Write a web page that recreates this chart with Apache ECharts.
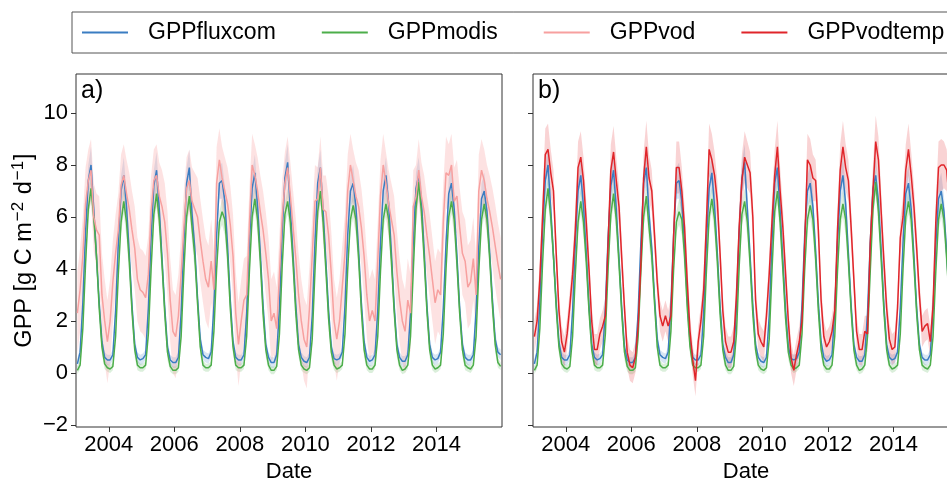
<!DOCTYPE html>
<html>
<head>
<meta charset="utf-8">
<script src="https://cdn.jsdelivr.net/npm/echarts@6/dist/echarts.min.js"></script>
<style>
  html, body { margin: 0; padding: 0; background: #fff; overflow: hidden; }
  /* the figure is wider than the window: the right panel is cut off at the edge */
  #chart { width: 975px; height: 480px; }
</style>
</head>
<body>
<div id="chart"></div>
<script>
// monthly means, Jan 2003 .. Dec 2015 (one row per year)
const startYear = 2003;

const fluxcom = [
  0.35, 0.8, 2.7, 5.4, 7.4, 8.0, 6.3, 4.5, 2.7, 1.2, 0.6, 0.5,
  0.5, 0.7, 2.4, 5.0, 7.0, 7.6, 6.4, 4.6, 2.6, 1.1, 0.6, 0.5,
  0.55, 0.7, 2.5, 5.2, 7.2, 7.8, 6.3, 4.4, 2.5, 1.0, 0.5, 0.4,
  0.4, 0.6, 2.3, 5.0, 7.3, 7.9, 6.1, 4.8, 2.9, 1.3, 0.7, 0.6,
  0.55, 0.8, 2.6, 5.3, 7.3, 7.4, 6.6, 4.9, 2.8, 1.2, 0.6, 0.5,
  0.5, 0.7, 2.3, 5.0, 7.1, 7.7, 6.4, 4.6, 2.6, 1.1, 0.6, 0.4,
  0.4, 0.7, 2.5, 5.4, 7.5, 8.1, 6.3, 4.5, 2.6, 1.1, 0.6, 0.45,
  0.4, 0.6, 2.2, 5.0, 7.3, 7.9, 6.2, 4.3, 2.4, 1.0, 0.55, 0.5,
  0.55, 0.8, 2.6, 5.3, 7.0, 7.3, 6.4, 4.7, 2.7, 1.2, 0.6, 0.45,
  0.5, 0.7, 2.4, 5.0, 7.0, 7.6, 6.5, 4.6, 2.6, 1.1, 0.6, 0.45,
  0.45, 0.7, 2.3, 5.0, 7.1, 7.6, 6.6, 4.7, 2.6, 1.1, 0.6, 0.5,
  0.55, 0.8, 2.5, 5.0, 6.9, 7.3, 6.3, 4.5, 2.5, 1.1, 0.6, 0.5,
  0.5, 0.7, 2.4, 4.9, 6.7, 7.0, 6.2, 4.6, 2.8, 1.3, 0.8, 0.7
];

const modis = [
  0.1, 0.3, 1.7, 4.2, 6.3, 7.1, 6.0, 4.5, 2.5, 1.0, 0.35, 0.2,
  0.15, 0.25, 1.4, 3.8, 5.8, 6.6, 5.8, 4.3, 2.4, 0.9, 0.3, 0.2,
  0.2, 0.3, 1.5, 4.0, 6.1, 6.9, 5.9, 4.2, 2.3, 0.8, 0.25, 0.1,
  0.1, 0.2, 1.4, 3.9, 6.0, 6.8, 5.6, 4.5, 2.7, 1.0, 0.3, 0.2,
  0.2, 0.3, 1.6, 4.0, 5.8, 6.2, 5.9, 4.5, 2.5, 1.0, 0.3, 0.2,
  0.2, 0.3, 1.4, 3.9, 6.0, 6.7, 5.9, 4.3, 2.3, 0.9, 0.3, 0.1,
  0.1, 0.25, 1.5, 4.1, 6.1, 6.6, 5.8, 4.2, 2.3, 0.9, 0.3, 0.15,
  0.1, 0.2, 1.3, 3.9, 6.2, 7.0, 5.8, 4.0, 2.1, 0.8, 0.3, 0.15,
  0.2, 0.3, 1.5, 4.0, 5.9, 6.45, 5.9, 4.4, 2.4, 0.9, 0.3, 0.15,
  0.15, 0.3, 1.4, 3.9, 5.9, 6.5, 5.9, 4.3, 2.4, 0.9, 0.3, 0.1,
  0.15, 0.3, 1.4, 3.9, 6.3, 7.35, 6.2, 4.4, 2.4, 0.9, 0.3, 0.15,
  0.2, 0.3, 1.5, 4.0, 6.0, 6.6, 5.9, 4.2, 2.3, 0.9, 0.3, 0.2,
  0.15, 0.3, 1.4, 3.9, 5.9, 6.5, 5.9, 4.4, 2.6, 1.1, 0.4, 0.25
];

const vod = [
  2.3, 3.2, 4.5, 6.5, 7.4, 7.8, 6.0, 5.5, 5.3, 3.0, 2.0, 1.2,
  2.0, 3.5, 4.6, 5.5, 7.2, 7.6, 6.9, 6.3, 5.5, 4.8, 3.6, 3.2,
  3.1, 2.9, 3.8, 6.2, 7.4, 7.6, 6.8, 6.4, 5.8, 4.6, 2.8, 1.6,
  1.4, 2.2, 3.8, 5.6, 7.1, 7.4, 6.6, 6.3, 6.0, 5.1, 4.3, 3.6,
  3.3, 4.3, 3.2, 7.3, 8.2, 7.5, 7.0, 6.5, 5.7, 4.5, 2.3, 1.1,
  2.0, 2.8, 3.0, 5.7, 8.0, 7.6, 7.0, 6.2, 5.5, 4.6, 3.6, 2.0,
  2.3, 1.7, 3.8, 6.0, 7.3, 7.9, 6.8, 5.6, 4.4, 3.0, 2.0, 1.3,
  1.0, 2.5, 4.5, 6.6, 6.7, 7.9, 6.3, 6.2, 5.3, 3.8, 2.0, 1.3,
  2.0, 3.3, 4.6, 7.0, 8.0, 7.4, 6.8, 6.4, 5.6, 4.5, 3.0, 2.0,
  2.4, 2.0, 4.3, 6.8, 8.0, 7.3, 6.5, 5.9, 5.3, 3.9, 2.8, 2.0,
  1.6, 2.8, 2.3, 6.4, 6.8, 7.8, 6.8, 6.2, 5.3, 4.5, 3.6, 2.7,
  3.2, 3.0, 5.8, 7.7, 7.6, 8.0, 6.6, 6.8, 5.6, 4.6, 4.3, 3.3,
  3.5, 4.4, 3.0, 7.0, 7.8, 7.4, 6.7, 6.2, 5.6, 4.9, 4.2, 3.6
];

const vodtemp = [
  1.4, 2.0, 3.6, 6.0, 8.4, 8.6, 7.7, 7.0, 4.6, 2.4, 1.2, 0.8,
  1.5, 2.6, 3.8, 5.5, 7.9, 8.3, 7.4, 5.8, 4.0, 2.0, 0.9, 0.9,
  1.5, 1.8, 2.2, 5.0, 7.8, 8.5, 7.4, 6.4, 4.4, 2.5, 0.8, 0.3,
  0.2, 0.6, 1.8, 4.2, 7.5, 8.7, 7.5, 7.0, 5.3, 3.5, 2.2, 1.8,
  2.2, 1.8, 2.2, 5.3, 7.9, 7.9, 7.0, 5.6, 3.5, 1.6, 0.5, -0.3,
  1.2, 2.0, 3.2, 5.8, 8.6, 8.2, 7.6, 6.6, 4.6, 2.4, 1.2, 0.8,
  0.8, 1.2, 3.0, 5.6, 7.4, 8.3, 8.0, 7.7, 6.0, 2.8, 1.5, 1.2,
  1.0, 2.2, 3.8, 5.8, 7.6, 8.7, 7.0, 5.6, 3.8, 2.0, 0.6, 0.1,
  0.7, 1.2, 2.0, 5.0, 8.2, 8.0, 7.5, 7.4, 5.5, 2.8, 1.4, 1.0,
  1.2, 1.6, 2.4, 5.5, 7.8, 8.7, 7.9, 7.4, 5.6, 3.6, 1.6, 0.9,
  0.9, 1.6, 1.5, 5.0, 7.0, 8.9, 8.2, 6.2, 4.3, 2.5, 1.3, 0.9,
  1.0, 2.5, 5.2, 6.0, 7.8, 8.6, 7.6, 6.4, 4.8, 3.0, 1.6, 1.8,
  1.9, 1.2, 2.6, 5.8, 7.9, 8.0, 8.0, 7.8, 6.5, 4.5, 3.0, 2.0
];

// spread of the ensemble by calendar month (Jan..Dec), half width of the shaded band
const sdFluxcom = [0.2, 0.2, 0.3, 0.4, 0.6, 0.7, 0.6, 0.5, 0.4, 0.3, 0.2, 0.2];
const sdModis = [0.15, 0.15, 0.2, 0.3, 0.4, 0.5, 0.6, 0.6, 0.5, 0.3, 0.2, 0.15];
const sdVod = [1.6, 1.6, 1.5, 1.4, 1.2, 1.2, 1.3, 1.4, 1.5, 1.6, 1.6, 1.6];
const sdVodtemp = [0.6, 0.6, 0.7, 0.8, 1.0, 1.0, 0.9, 0.8, 0.7, 0.6, 0.6, 0.6];

const xTicks = [2004, 2006, 2008, 2010, 2012, 2014];
const yTicks = [-2, 0, 2, 4, 6, 8, 10];
const legendNames = ['GPPfluxcom', 'GPPmodis', 'GPPvod', 'GPPvodtemp'];

const colors = {
    GPPfluxcom: '#3a7dc2',
    GPPmodis: '#4cae4a',
    GPPvod: '#f7a09f',
    GPPvodtemp: '#e0252a'
};
const bandColors = {
    GPPfluxcom: 'rgba(58,125,194,0.2)',
    GPPmodis: 'rgba(76,174,74,0.2)',
    GPPvod: 'rgba(247,160,159,0.3)',
    GPPvodtemp: 'rgba(224,37,42,0.2)'
};

const FONT = '"Liberation Sans", Arial, sans-serif';

// time of each monthly value (mid month, decimal year)
const dates = fluxcom.map((_, i) => startYear + (i + 0.5) / 12);

const lineSeries = (name, vals, gi) => ({
    type: 'line',
    name,
    xAxisIndex: gi,
    yAxisIndex: gi,
    data: vals.map((v, i) => [dates[i], v]),
    showSymbol: false,
    color: colors[name],
    lineStyle: { width: 1.5, color: colors[name] },
    z: 3
});

const bandSeries = (name, vals, sd, gi) => {
    const data = vals.map((v, i) => [dates[i], v - sd[i % 12], v + sd[i % 12]]);
    return {
        type: 'custom',
        xAxisIndex: gi,
        yAxisIndex: gi,
        data,
        z: 1,
        silent: true,
        renderItem: (params, api) => {
            if (params.dataIndex !== 0) return;
            const upper = data.map(d => api.coord([d[0], d[2]]));
            const lower = data.map(d => api.coord([d[0], d[1]])).reverse();
            return {
                type: 'polygon',
                shape: { points: upper.concat(lower) },
                style: { fill: bandColors[name], stroke: null }
            };
        }
    };
};

const makeX = gi => ({
    type: 'value',
    gridIndex: gi,
    min: 2003,
    max: 2016,
    name: 'Date',
    nameLocation: 'middle',
    nameGap: 31,
    nameTextStyle: { fontFamily: FONT, fontSize: 22, color: '#000' },
    axisLine: { show: false, onZero: false },
    splitLine: { show: false },
    axisTick: { show: true, length: 5, customValues: xTicks, lineStyle: { color: '#333' } },
    axisLabel: {
        customValues: xTicks, fontFamily: FONT, fontSize: 22, color: '#000', margin: 7,
        formatter: v => String(v)
    }
});

const makeY = (gi, labels) => ({
    type: 'value',
    gridIndex: gi,
    min: -2.08,
    max: 11.5,
    axisLine: { show: false, onZero: false },
    splitLine: { show: false },
    axisTick: { show: true, length: 5, customValues: yTicks, lineStyle: { color: '#333' } },
    axisLabel: {
        show: labels, customValues: yTicks,
        fontFamily: FONT, fontSize: 22, color: '#000', margin: 8,
        formatter: v => (v < 0 ? '\u2212' + Math.abs(v) : String(v))
    },
    name: labels ? '{a|GPP [g C m}{s|\u22122}{a| d}{s|\u22121}{a|]}' : '',
    nameLocation: 'middle',
    nameRotate: 90,
    nameGap: 39,
    nameTextStyle: {
        rich: {
            a: { fontFamily: FONT, fontSize: 23.5, color: '#000', verticalAlign: 'bottom' },
            s: { fontFamily: FONT, fontSize: 17, color: '#000', verticalAlign: 'bottom', padding: [0, 1, 10, 1] }
        }
    }
});

const chart = echarts.init(document.getElementById('chart'), null, { renderer: 'canvas' });

const gridBase = {
    top: 74, width: 426, height: 353,
    show: true, borderColor: '#333', borderWidth: 1, backgroundColor: 'transparent',
    outerBoundsMode: 'none'
};

chart.setOption({
    animation: false,
    backgroundColor: '#fff',
    legend: {
        data: legendNames,
        left: 72,
        top: 12,
        width: 900,
        padding: [9, 10],
        itemGap: 46,
        itemWidth: 46,
        itemHeight: 2,
        icon: 'rect',
        borderColor: '#555',
        borderWidth: 1,
        selectedMode: false,
        textStyle: { fontFamily: FONT, fontSize: 23, color: '#000', padding: [0, 0, 0, 15] }
    },
    grid: [
        Object.assign({ left: 76 }, gridBase),
        Object.assign({ left: 533 }, gridBase)
    ],
    xAxis: [makeX(0), makeX(1)],
    yAxis: [makeY(0, true), makeY(1, false)],
    graphic: [
        { type: 'text', left: 81, top: 79, style: { text: 'a)', font: '25px ' + FONT, fill: '#000' } },
        { type: 'text', left: 538, top: 79, style: { text: 'b)', font: '25px ' + FONT, fill: '#000' } }
    ],
    series: [
        bandSeries('GPPfluxcom', fluxcom, sdFluxcom, 0),
        bandSeries('GPPmodis', modis, sdModis, 0),
        bandSeries('GPPvod', vod, sdVod, 0),
        lineSeries('GPPfluxcom', fluxcom, 0),
        lineSeries('GPPmodis', modis, 0),
        lineSeries('GPPvod', vod, 0),
        bandSeries('GPPfluxcom', fluxcom, sdFluxcom, 1),
        bandSeries('GPPmodis', modis, sdModis, 1),
        bandSeries('GPPvodtemp', vodtemp, sdVodtemp, 1),
        lineSeries('GPPfluxcom', fluxcom, 1),
        lineSeries('GPPmodis', modis, 1),
        lineSeries('GPPvodtemp', vodtemp, 1)
    ]
});

window.addEventListener('resize', () => chart.resize());
</script>
</body>
</html>
